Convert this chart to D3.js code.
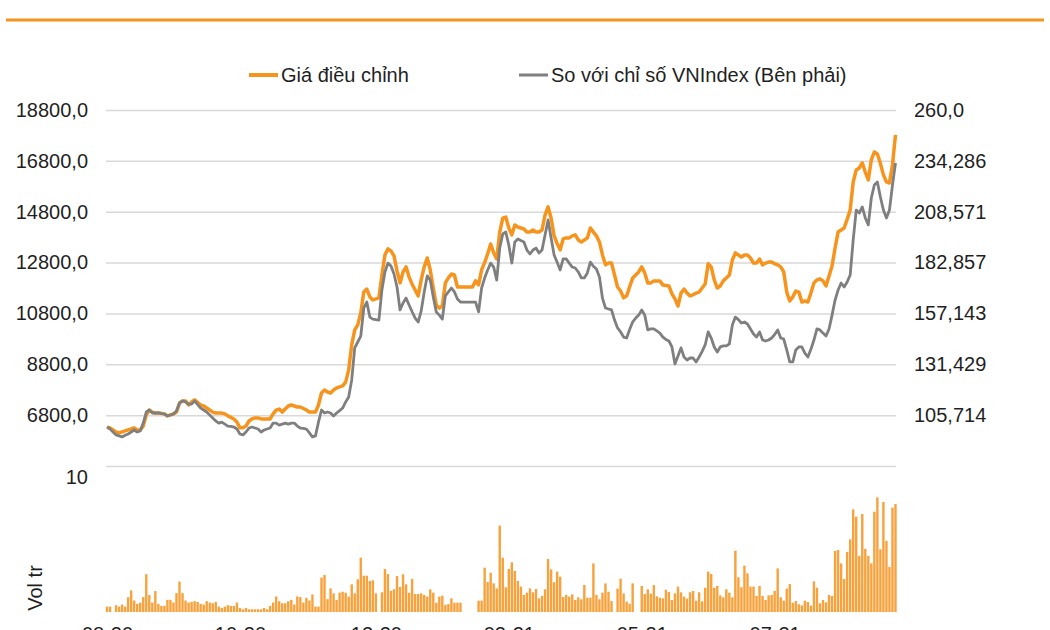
<!DOCTYPE html>
<html><head><meta charset="utf-8">
<script src="https://cdn.jsdelivr.net/npm/d3@7"></script>
<style>body{margin:0;background:#fff;} svg{display:block;font-family:"Liberation Sans",Arial,sans-serif;}</style>
</head><body><svg id="c" width="1050" height="630"></svg>
<script>
// Adjusted price (left axis)
const price = [
6330,6300,6220,6140,6100,6140,6180,6220,6260,6300,
6220,6220,6370,6810,7000,6920,6880,6880,6870,6850,
6770,6810,6850,6920,7280,7360,7360,7200,7320,7400,
7300,7200,7160,7080,7000,6920,6880,6880,6880,6850,
6770,6710,6650,6530,6300,6300,6370,6570,6650,6690,
6690,6650,6650,6650,6650,6850,7000,7040,6920,7040,
7160,7200,7160,7120,7120,7060,7000,6920,6920,6920,
7200,7670,7790,7710,7670,7790,7870,7910,7950,8100,
8580,9560,10150,10350,10820,11640,11760,11450,11330,11370,
11410,12310,13100,13340,13260,13060,12470,12000,12430,12630,
12230,11950,11720,11490,12120,12630,12980,12510,11800,11130,
11010,11090,12000,12200,12350,12310,11840,11840,11840,11840,
11840,11840,12080,11920,12510,12800,13140,13530,13180,12940,
14000,14550,14590,14160,13890,14280,14200,14160,14120,14000,
14000,14080,14000,14000,14080,14670,14990,14550,13850,13550,
13300,13730,13770,13770,13850,13890,13690,13610,13690,13770,
14160,14000,13850,13610,13100,12710,12780,12780,12310,11840,
11680,11410,11490,11850,12190,12310,12430,12630,12390,12000,
12000,12080,12080,12080,11920,11900,11880,11570,11370,11090,
11600,11760,11600,11490,11530,11600,11640,11800,11960,12750,
12630,12120,11800,11880,12080,12190,12310,12900,13180,13100,
13020,13100,13100,12980,12780,12780,12940,12710,12780,12820,
12820,12760,12710,12630,12430,11640,11290,11450,11680,11640,
11250,11290,11250,11600,12000,12120,12160,12080,11880,12270,
12670,13370,14000,14080,14160,14500,14870,15970,16440,16520,
16720,16360,16050,16840,17150,17070,16700,16250,15970,15930,
16640,17820];

// Relative to VNIndex (right axis)
const vsVNIndex = [
99.7,98.7,97.2,95.7,95.2,94.7,95.5,96.2,97.2,98.2,
97.2,97.7,101.7,107.3,108.3,106.8,106.8,106.8,106.5,106.3,
105.3,105.8,106.3,107.8,111.9,112.9,112.4,111.3,111.3,112.9,
111,109.3,108.3,107.3,105.8,104.3,102.8,101.7,102.2,101.2,
100.2,100,99.7,98.7,96.2,95.7,97.2,99.2,99.7,99.2,
98.7,97.2,98.2,98.7,99.2,101.7,101.7,100.7,101.2,101.7,
101.2,101.7,101.7,100.2,99.2,99,98.7,96.7,94.7,95.2,
102.2,108.3,106.8,107.3,106.8,105.3,106.8,108,109.3,112.4,
114.9,123.5,139.7,142.7,145.7,159.9,162.9,155.3,154.3,154,
153.8,169.0,178.1,182.6,181.1,177.1,170.5,158.9,162.4,164.9,
161.4,158,154.8,152.8,158.4,168.0,176.1,174.0,165.5,157.9,
156.3,154.3,166.0,168,170.0,168.0,164.4,162.9,162.9,162.9,
162.9,162.9,162.9,157.9,170.0,175,179.1,182.6,180.6,174.0,
190.2,197.3,198.3,191.7,182.6,193.3,194.8,194,193.3,189.2,
187.2,189.2,190.2,187.7,189.2,196.8,204.4,195.3,186.7,183,
179.1,184.7,184.7,182.6,180.6,180.1,178.1,175.1,175.1,177.6,
183.1,181,179.6,175.6,164.9,159.9,159.4,158.9,153.8,149.8,
147.8,145.2,144.7,149,152.8,154.8,156.3,158.9,156.3,148.8,
149.3,149.3,148.3,147.2,145.2,144,143.2,140.2,131.6,135.6,
139.7,135.1,133.6,134.6,134.6,132.6,135.1,138,141.2,147.8,
144.7,140.2,137.6,140.2,140.7,140.7,141.7,151.3,155.3,154,
152.3,152.8,151.8,149.3,146.7,145.2,147.8,143.7,143.2,143.7,
144.7,146.5,148.8,144.7,144.2,138.7,132.6,132.6,138.7,140.2,
140.2,137.1,135.1,139,143.7,149.3,148.8,147.2,145.7,149.3,
156.3,163.9,169.0,172.5,170.5,173,176.6,194.3,209.4,207.9,
211.0,205.4,201.9,215.5,222.1,223.6,216,209.4,205.4,209.4,
222.1,233.2];

// Volume (million shares)
const volume = [
0.4,0.4,0,0.5,0.4,0.55,0.4,1.1,1.6,0.85,
0.6,0.7,1.1,2.8,1.25,0.7,1.55,0.6,0.45,0.45,
0.9,0.9,0.7,1.4,2.25,1.4,0.85,0.7,0.75,0.8,
0.75,0.6,0.55,0.8,0.7,0.65,0.75,0.4,0.3,0.4,
0.5,0.45,0.45,0.7,0.3,0.2,0.3,0.2,0.2,0.2,
0.2,0.2,0.3,0.2,0.45,0.7,1.15,0.8,0.65,0.65,
0.8,0.9,0.55,1.15,1.1,0.7,1.05,0.85,1.3,0.4,
0.4,2.55,2.75,0.95,1.75,1.38,0.89,1.43,1.5,1.43,
1.14,2.05,1.38,2.42,4.02,2.69,2.69,2.3,2.35,1.38,
0,1.46,3.19,2.81,1.56,1.68,2.67,1.85,2.79,2.05,
1.43,2.44,1.33,1.33,1.38,1.26,1.14,1.68,1.43,0.69,
1.14,1.21,0.52,0.59,1.01,0.69,0.69,0.69,0,0,
0,0,0,0.84,0.84,3.28,2.22,2.91,2.12,1.75,
6.4,4.02,1.83,3.19,3.68,3.04,2.3,1.88,1.26,1.43,
1.75,1.46,1.7,1.01,1.19,1.68,3.93,3.16,2.2,2.99,
2.62,1.11,1.26,1.14,1.31,0.89,1.09,0.94,2.0,1.06,
1.06,3.6,1.26,0.94,1.43,2.12,1.5,0.81,0,1.73,
2.47,1.38,0.77,0.59,2.12,0,0,1.93,1.33,1.68,
1.36,2.0,1.16,1.06,1.01,1.65,1.48,0.89,1.38,1.88,
1.46,1.14,0.99,1.46,1.56,0.84,1.46,0.79,1.8,2.99,
2.81,1.8,1.93,1.23,1.09,1.68,1.43,1.09,4.54,2.57,
1.83,3.43,2.86,1.88,1.88,1.19,1.93,1.19,0.89,1.23,
1.26,1.56,3.23,1.09,0.84,1.73,2.07,0.69,0.81,0.57,
0.49,0.84,0.74,0.47,2.27,1.8,0.64,0.89,0.72,1.26,
1.19,4.52,4.59,3.6,2.44,4.44,5.38,7.6,7.06,4.15,
7.26,4.67,4.15,3.6,7.43,8.49,4.64,8.15,5.26,3.33,
7.73,8.0];

const seriesNames = ["Giá điều chỉnh", "So với chỉ số VNIndex (Bên phải)"];
const leftTicks = [6800, 8800, 10800, 12800, 14800, 16800, 18800];
const leftTickLabels = ["6800,0","8800,0","10800,0","12800,0","14800,0","16800,0","18800,0"];
const rightTicks = [105.714, 131.429, 157.143, 182.857, 208.571, 234.286, 260];
const rightTickLabels = ["105,714","131,429","157,143","182,857","208,571","234,286","260,0"];
const volTicks = [10];
const volTickLabels = ["10"];
const xTickIndex = [0, 44, 89, 133, 177, 221];
const xTickLabels = ["08-20","10-20","12-20","02-21","05-21","07-21"];
const volTitle = "Vol tr";

const ORANGE = "#F7941D", GRAY = "#7F7F7F", GRID = "#D9D9D9", TXT = "#1F1F1F";
const svg = d3.select("#c");
const N = price.length;
const x = d3.scaleLinear().domain([0, N - 1]).range([107, 895.5]);
const yL = d3.scaleLinear().domain([4800, 18800]).range([466, 110]);
const yR = d3.scaleLinear().domain([80, 260]).range([466, 110]);
const yV = d3.scaleLinear().domain([0, 10]).range([612, 477]);

// top rule
svg.append("line").attr("x1", 6).attr("x2", 1044).attr("y1", 20).attr("y2", 20)
  .attr("stroke", ORANGE).attr("stroke-width", 3);

// gridlines
const grid = svg.append("g").attr("transform", "translate(106,0)")
  .call(d3.axisLeft(yL).tickValues([4800].concat(leftTicks)).tickSize(-790).tickFormat(""));
grid.select(".domain").remove();
grid.selectAll("line").attr("stroke", GRID).attr("stroke-width", 1.5);

function styleAxis(g) {
  g.select(".domain").remove();
  g.selectAll("line").remove();
  g.attr("font-size", 20).attr("font-family", '"Liberation Sans", Arial, sans-serif');
  g.selectAll("text").attr("fill", TXT);
}
svg.append("g").attr("transform", "translate(106,0)")
  .call(d3.axisLeft(yL).tickValues(leftTicks).tickSize(0).tickPadding(18)
    .tickFormat((d, i) => leftTickLabels[i])).call(styleAxis);
svg.append("g").attr("transform", "translate(896,0)")
  .call(d3.axisRight(yR).tickValues(rightTicks).tickSize(0).tickPadding(18)
    .tickFormat((d, i) => rightTickLabels[i])).call(styleAxis);
svg.append("g").attr("transform", "translate(106,0)")
  .call(d3.axisLeft(yV).tickValues(volTicks).tickSize(0).tickPadding(18)
    .tickFormat((d, i) => volTickLabels[i])).call(styleAxis);
svg.append("g").attr("transform", "translate(0,612)")
  .call(d3.axisBottom(x).tickValues(xTickIndex).tickSize(0).tickPadding(15)
    .tickFormat((d, i) => xTickLabels[i])).call(styleAxis);

svg.append("text").attr("transform", "translate(42,588) rotate(-90)")
  .attr("text-anchor", "middle").attr("font-size", 20).attr("fill", TXT).text(volTitle);

// volume bars
svg.append("g").selectAll("rect").data(volume).join("rect")
  .attr("x", (d, i) => x(i) - 1.2).attr("width", 2.4)
  .attr("y", d => yV(d)).attr("height", d => yV(0) - yV(d))
  .attr("fill", "#F7A23C");

// lines
const lineL = d3.line().x((d, i) => x(i)).y(d => yL(d));
const lineR = d3.line().x((d, i) => x(i)).y(d => yR(d));
svg.append("path").datum(price).attr("d", lineL).attr("fill", "none")
  .attr("stroke", ORANGE).attr("stroke-width", 3.5).attr("stroke-linejoin", "round");
svg.append("path").datum(vsVNIndex).attr("d", lineR).attr("fill", "none")
  .attr("stroke", GRAY).attr("stroke-width", 2.8).attr("stroke-linejoin", "round");

// legend
const legend = [
  {name: seriesNames[0], color: ORANGE, x: 249, w: 4},
  {name: seriesNames[1], color: GRAY, x: 519, w: 3}
];
const lg = svg.append("g");
legend.forEach(l => {
  lg.append("line").attr("x1", l.x).attr("x2", l.x + 29).attr("y1", 75).attr("y2", 75)
    .attr("stroke", l.color).attr("stroke-width", l.w);
  lg.append("text").attr("x", l.x + 32).attr("y", 82).attr("font-size", 20)
    .attr("fill", TXT).text(l.name);
});
</script></body></html>
